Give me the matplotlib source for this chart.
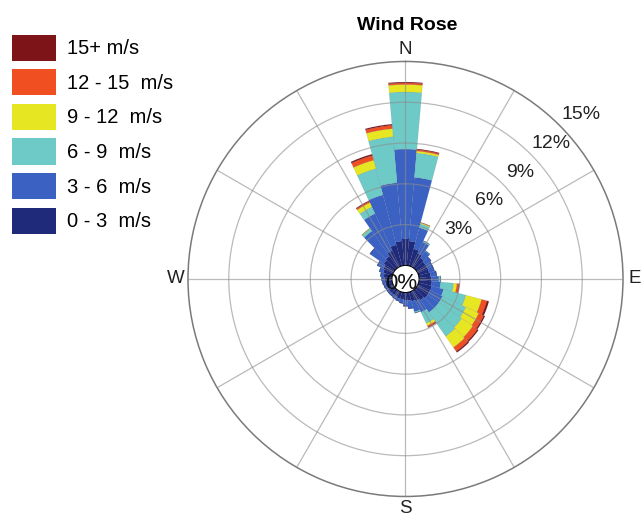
import numpy as np
import matplotlib
matplotlib.use("Agg")
import matplotlib.pyplot as plt
from matplotlib.patches import Patch

plt.rcParams["font.family"] = ["Liberation Sans", "DejaVu Sans"]

# direction bins (deg, clockwise from N)
directions = np.arange(0, 360, 10)

speed_labels = ["0 - 3  m/s", "3 - 6  m/s", "6 - 9  m/s",
                "9 - 12  m/s", "12 - 15  m/s", "15+ m/s"]
speed_colors = ["#1f2a7a", "#3b62c2", "#6dcac6", "#e7e623", "#f04f22", "#7d1518"]

# frequency (%) per direction for each speed class
f_0_3 = [1.95, 1.80, 1.30, 1.10, 0.90, 0.80, 0.80, 0.80, 0.85, 0.90, 0.95, 1.00,
         1.00, 1.00, 0.90, 0.80, 0.70, 0.60, 0.55, 0.50, 0.50, 0.45, 0.45, 0.45,
         0.45, 0.50, 0.50, 0.55, 0.60, 0.70, 0.80, 0.95, 1.05, 1.30, 1.60, 1.80]
f_3_6 = [6.60, 4.70, 1.60, 0.90, 0.60, 0.50, 0.40, 0.40, 0.45, 0.55, 0.65, 0.90,
         1.00, 1.00, 1.10, 0.90, 0.80, 0.60, 0.45, 0.30, 0.20, 0.20, 0.15, 0.15,
         0.15, 0.15, 0.20, 0.20, 0.25, 0.30, 0.50, 1.25, 2.25, 3.00, 3.80, 4.30]
f_6_9 = [4.20, 1.80, 0.30, 0.10, 0.05, 0.00, 0.00, 0.00, 0.00, 0.15, 0.95, 1.70,
         1.90, 2.05, 2.15, 0.90, 0.10, 0.00, 0.00, 0.00, 0.00, 0.00, 0.00, 0.00,
         0.00, 0.00, 0.00, 0.00, 0.00, 0.00, 0.00, 0.00, 0.20, 0.55, 2.00, 3.40]
f_9_12 = [0.55, 0.15, 0.07, 0.00, 0.00, 0.00, 0.00, 0.00, 0.00, 0.00, 0.25, 1.20,
          1.05, 1.00, 1.00, 0.20, 0.00, 0.00, 0.00, 0.00, 0.00, 0.00, 0.00, 0.00,
          0.00, 0.00, 0.00, 0.00, 0.00, 0.00, 0.00, 0.00, 0.05, 0.35, 0.65, 0.60]
f_12_15 = [0.12, 0.10, 0.03, 0.00, 0.00, 0.00, 0.00, 0.00, 0.00, 0.00, 0.15, 0.40,
           0.40, 0.40, 0.35, 0.10, 0.00, 0.00, 0.00, 0.00, 0.00, 0.00, 0.00, 0.00,
           0.00, 0.00, 0.00, 0.00, 0.00, 0.00, 0.00, 0.00, 0.00, 0.10, 0.35, 0.25]
f_15p = [0.06, 0.05, 0.00, 0.00, 0.00, 0.00, 0.00, 0.00, 0.00, 0.00, 0.05, 0.15,
         0.10, 0.10, 0.10, 0.05, 0.00, 0.00, 0.00, 0.00, 0.00, 0.00, 0.00, 0.00,
         0.00, 0.00, 0.00, 0.00, 0.00, 0.00, 0.00, 0.00, 0.00, 0.05, 0.10, 0.08]

rings = [3, 6, 9, 12, 15]
ring_labels = ["3%", "6%", "9%", "12%", "15%"]

fig = plt.figure(figsize=(6.44, 5.17), dpi=100)
ax = fig.add_axes([0.2919, 0.0397, 0.6755, 0.8414], projection="polar")
ax.set_theta_zero_location("N")
ax.set_theta_direction(-1)
ax.set_ylim(0, 15)
ax.set_rorigin(-1.0)

theta = np.deg2rad(directions)
width = np.deg2rad(10)
bottom = np.zeros(len(directions))
for vals, col in zip([f_0_3, f_3_6, f_6_9, f_9_12, f_12_15, f_15p], speed_colors):
    vals = np.array(vals)
    ax.bar(theta, vals, width=width, bottom=bottom, color=col,
           edgecolor=(0.1, 0.1, 0.3, 0.18), linewidth=0.3, zorder=1)
    bottom += vals

ax.set_axisbelow(False)
ax.set_thetagrids(np.arange(0, 360, 30), labels=[])
ax.set_rgrids(rings[:-1], labels=[])
ax.grid(True, color="#8c8c8c", alpha=0.6, linewidth=0.9)
ax.spines["polar"].set_color("#7a7a7a")
ax.spines["polar"].set_linewidth(1.1)
ax.spines["inner"].set_visible(False)

for r, lab in zip(rings, ring_labels):
    ax.text(np.deg2rad(47), r * 1.03 + 1.25, lab, fontsize=14, ha="center",
            va="center", color="#222222", clip_on=False, zorder=5)

for ang, lab in zip([0, 90, 180, 270], ["N", "E", "S", "W"]):
    ax.text(np.deg2rad(ang), 15.9, lab, fontsize=13.5, ha="center", va="center",
            color="#222222", clip_on=False)

ax.annotate("0%", xy=(0, -1.0), xytext=(-3, -3), textcoords="offset points",
            fontsize=16, ha="center", va="center", color="#111111", zorder=6)

fig.text(0.633, 0.951, "Wind Rose", fontsize=14, fontweight="bold",
         ha="center", va="center")

handles = [Patch(facecolor=c, edgecolor="none") for c in speed_colors]
leg = fig.legend(handles[::-1], speed_labels[::-1], loc="upper left",
                 bbox_to_anchor=(0.018, 0.933), frameon=False, fontsize=14.5,
                 handlelength=2.2, handleheight=1.62, handletextpad=0.55,
                 labelspacing=0.42, borderaxespad=0, borderpad=0)

fig.savefig("out.png", dpi=100)
